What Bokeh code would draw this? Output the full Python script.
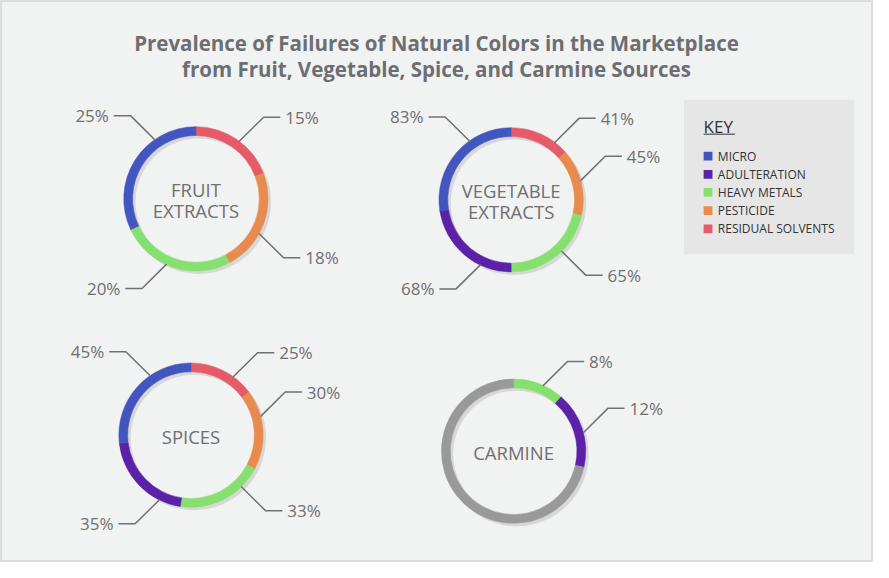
import math
from bokeh.plotting import figure
from bokeh.models import Range1d, ColumnDataSource
from bokeh.core.properties import value
from bokeh.embed import file_html
from bokeh.resources import INLINE

# ---------------- data ----------------
TITLE_LINES = ["Prevalence of Failures of Natural Colors in the Marketplace",
               "from Fruit, Vegetable, Spice, and Carmine Sources"]
CATEGORIES = ["MICRO", "ADULTERATION", "HEAVY METALS", "PESTICIDE", "RESIDUAL SOLVENTS"]
COLORS = ["#4355be", "#5b22a8", "#86e070", "#e98b4e", "#e65b6a"]
OTHER_COLOR = "#999999"

SOURCES = ["FRUIT\nEXTRACTS", "VEGETABLE\nEXTRACTS", "SPICES", "CARMINE"]
# values per category (same order as CATEGORIES), None = not reported
FRUIT = [25, None, 20, 18, 15]
VEGETABLE = [83, 68, 65, 45, 41]
SPICES = [45, 35, 33, 30, 25]
CARMINE = [None, 12, 8, None, None]
CARMINE_OTHER = 50  # grey remainder of the carmine ring (read from arc length)
VALUES = [FRUIT, VEGETABLE, SPICES, CARMINE]
OTHERS = [None, None, None, CARMINE_OTHER]

# ---------------- layout (reference pixel space 889 x 578) ----------------
PW, PH = 889, 578
def Y(py):
    return PH - py

CENTERS = [(199, 204), (520, 205), (194, 447), (522.5, 463.5)]
R_OUT, R_IN = 73.5, 64.5
SHADOW_DX, SHADOW_DY = 3, 3
# leader anchor angles (degrees clockwise from top), per drawn segment order
LEADER_ANGLES = [[36.7, 119, 204, 325.5],
                 [36.9, 74.4, 135.8, 205, 325],
                 [35.6, 74.8, 136, 205.7, 325.8],
                 [24, 75]]
DIAG, HORIZ, GAP = 25, 17, 5
TEXT_GREY = "#6f6f6f"
FONT = "Open Sans"

p = figure(width=873, height=562, x_range=Range1d(0, PW), y_range=Range1d(0, PH),
           output_backend="svg", toolbar_location=None, min_border=0,
           x_axis_location=None, y_axis_location=None)
p.grid.visible = False
p.background_fill_color = "#f1f2f2"
p.border_fill_color = "#f1f2f2"
p.outline_line_color = "#dcdcdc"
p.outline_line_width = 3

# title
for i, line in enumerate(TITLE_LINES):
    p.text(x=[444], y=[Y(44 + 26 * i)], text=[line], text_font=value(FONT),
           text_font_size=value("20.5px"), text_font_style="bold", text_color="#6d6e71",
           text_align="center", text_baseline="middle")

seg = dict(x=[], y=[], s=[], e=[], c=[])
shadow = dict(x=[], y=[])
lx, ly = [], []
lab_l = dict(x=[], y=[], t=[])
lab_r = dict(x=[], y=[], t=[])

for ci, (vals, other, (cx, cy)) in enumerate(zip(VALUES, OTHERS, CENTERS)):
    shadow["x"].append(cx + SHADOW_DX)
    shadow["y"].append(Y(cy + SHADOW_DY))
    order = list(range(len(CATEGORIES)))[::-1]  # residual first, clockwise from top
    items = [(vals[k], COLORS[k], True) for k in order if vals[k] is not None]
    if other is not None:
        items.append((other, OTHER_COLOR, False))
    total = sum(v for v, _, _ in items)
    cum = 0.0
    li = 0
    for v, col, labeled in items:
        a0 = cum / total * 2 * math.pi
        cum += v
        a1 = cum / total * 2 * math.pi
        seg["x"].append(cx)
        seg["y"].append(Y(cy))
        seg["s"].append(math.pi / 2 - a1)
        seg["e"].append(math.pi / 2 - a0)
        seg["c"].append(col)
        if labeled:
            ang = math.radians(LEADER_ANGLES[ci][li])
            li += 1
            ax = cx + R_OUT * math.sin(ang)
            ay = cy - R_OUT * math.cos(ang)
            sx = 1 if math.sin(ang) >= 0 else -1
            sy = 1 if -math.cos(ang) >= 0 else -1
            ex, ey = ax + sx * DIAG, ay + sy * DIAG
            hx = ex + sx * HORIZ
            lx.append([ax, ex, hx])
            ly.append([Y(ay), Y(ey), Y(ey)])
            d = lab_l if sx > 0 else lab_r
            d["x"].append(hx + sx * GAP)
            d["y"].append(Y(ey))
            d["t"].append(f"{v}%")

p.annulus(x="x", y="y", inner_radius=R_IN, outer_radius=R_OUT, source=ColumnDataSource(shadow),
          fill_color="#d4d4d4", line_color=None, fill_alpha=0.9)
p.annular_wedge(x="x", y="y", inner_radius=R_IN, outer_radius=R_OUT, start_angle="s", end_angle="e",
                fill_color="c", line_color="c", line_width=0.5, source=ColumnDataSource(seg))
p.multi_line(xs=lx, ys=ly, line_color="#707070", line_width=1.5)
for d, al in ((lab_l, "left"), (lab_r, "right")):
    p.text(x="x", y="y", text="t", source=ColumnDataSource(d), text_font=value(FONT),
           text_font_size=value("17px"), text_color=TEXT_GREY, text_align=al, text_baseline="middle")

# center labels
for name, (cx, cy) in zip(SOURCES, CENTERS):
    lines = name.split("\n")
    n = len(lines)
    for i, line in enumerate(lines):
        off = (i - (n - 1) / 2) * 21
        p.text(x=[cx], y=[Y(cy + off + 1)], text=[line], text_font=value(FONT),
               text_font_size=value("18.5px"), text_color=TEXT_GREY,
               text_align="center", text_baseline="middle")

# key
p.quad(left=[696], right=[869], top=[Y(102)], bottom=[Y(261)], fill_color="#e6e6e6", line_color=None)
p.text(x=[716], y=[Y(130)], text=["KEY"], text_font=value(FONT), text_font_size=value("17px"),
       text_color="#333333", text_align="left", text_baseline="middle")
p.segment(x0=[716], x1=[748], y0=[Y(137.5)], y1=[Y(137.5)], line_color="#333333", line_width=1)
ky = [Y(160 + 18.7 * i) for i in range(len(CATEGORIES))]
p.rect(x=[720.5] * len(CATEGORIES), y=ky, width=9, height=9, fill_color=COLORS, line_color=None)
p.text(x=[730.5] * len(CATEGORIES), y=ky, text=CATEGORIES, text_font=value(FONT),
       text_font_size=value("12px"), text_color="#333333", text_align="left", text_baseline="middle")

open("out.html", "w").write(file_html(p, INLINE))
